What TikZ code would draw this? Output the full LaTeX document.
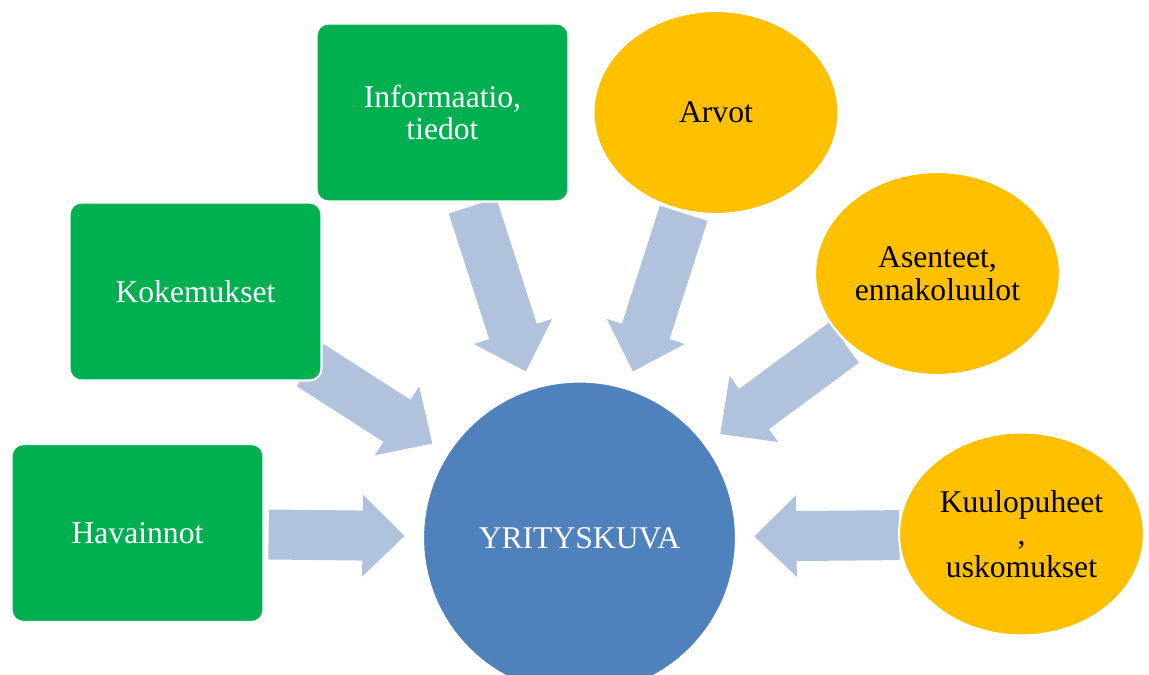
\documentclass[tikz,border=0pt]{standalone}
\usepackage{fontspec}
\setmainfont{Liberation Serif}
\usepackage{tikz}
\usetikzlibrary{calc}
\usetikzlibrary{shapes.geometric,backgrounds}
\definecolor{leafgreen}{RGB}{0,176,80}
\definecolor{warmyellow}{RGB}{255,192,0}
\definecolor{coreblue}{RGB}{79,129,189}
\definecolor{flowblue}{RGB}{177,194,221}

\begin{document}
\begin{tikzpicture}[x=0.02cm,y=-0.02cm,
    every node/.style={font=\fontsize{18pt}{18.5pt}\selectfont,align=center,inner sep=0pt},
    greenbox/.style={rectangle,rounded corners=0.24cm,fill=leafgreen,draw=white,line width=1.2pt,
      text=white,minimum width=5.04cm,minimum height=3.56cm},
    yellowoval/.style={ellipse,fill=warmyellow,draw=white,line width=1.2pt,text=black,
      minimum width=4.9cm,minimum height=4.06cm},
    core/.style={circle,fill=coreblue,draw=white,line width=1.2pt,text=white,minimum size=6.26cm},
    flow/.style={fill=flowblue}]
    \useasboundingbox (0,0) rectangle (1149,675);
    % sources round the core
    \node[greenbox] (hav) at (137.5,533) {Havainnot};
    \node[greenbox] (kok) at (195.5,291.5) {Kokemukset};
    \node[greenbox] (inf) at (442.5,112.5) {Informaatio,\\tiedot};
    \node[yellowoval] (arv) at (716,112.5) {Arvot};
    \node[yellowoval] (ase) at (937.5,273.5) {Asenteet,\\ennakoluulot};
    \node[yellowoval] (kuu) at (1021.5,534) {Kuulopuheet\\,\\uskomukset};
    \node[core] (yk) at (579.5,538) {YRITYSKUVA};
    % block arrows towards the core
    \begin{pgfonlayer}{background}
    \foreach \src/\rad in {hav/6.22,kok/6.4,inf/6.98,arv/6.82,ase/6.58,kuu/6.4}{
      \coordinate (s) at ($(yk)!\rad cm!(\src)$);
      \coordinate (t) at ($(yk)!3.5cm!(\src)$);
      \coordinate (b) at ($(t)!0.84cm!(s)$);
      \fill[flow] ($(s)!0.5cm!90:(t)$) -- ($(b)!0.5cm!90:(t)$) -- ($(b)!0.82cm!90:(t)$)
        -- (t) -- ($(b)!0.82cm!-90:(t)$) -- ($(b)!0.5cm!-90:(t)$)
        -- ($(s)!0.5cm!-90:(t)$) -- cycle;}
    \end{pgfonlayer}
\end{tikzpicture}
\end{document}
